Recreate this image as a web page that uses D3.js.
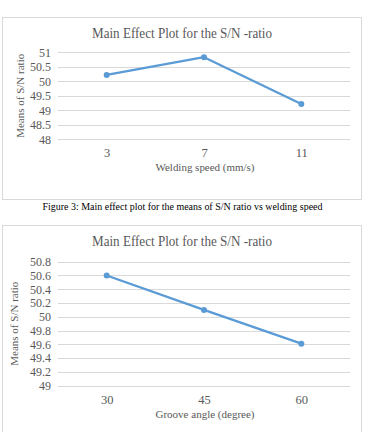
<!DOCTYPE html>
<html>
<head>
<meta charset="utf-8">
<script src="https://cdn.jsdelivr.net/npm/d3@7"></script>
<style>
  body { margin: 0; background: #fff; }
  svg text { font-family: "Liberation Serif", "DejaVu Serif", serif; }
</style>
</head>
<body>
<div id="chart"></div>
<script>
// chart 1 data
const speedCats = ['3', '7', '11'];
const speedMeans = [50.22, 50.83, 49.22];
const speedTicks = [48, 48.5, 49, 49.5, 50, 50.5, 51];

// chart 2 data
const angleCats = ['30', '45', '60'];
const angleMeans = [50.6, 50.1, 49.61];
const angleTicks = [49, 49.2, 49.4, 49.6, 49.8, 50, 50.2, 50.4, 50.6, 50.8];

const chartTitle = 'Main Effect Plot for the S/N -ratio';
const yTitle = 'Means of S/N ratio';
const caption = 'Figure 3: Main effect plot for the means of S/N ratio vs welding speed';

const width = 367, height = 432;
const svg = d3.select('#chart')
  .append('svg')
  .attr('width', width)
  .attr('height', height);

const textColor = '#595959';
const lineColor = '#5b9bd5';

// draws one excel-like chart inside its own box
const drawChart = (top, boxH, cats, values, ticks, xTitle, yTop, yBottom, yTitleX) => {
  const g = svg.append('g').attr('transform', `translate(0,${top})`);

  g.append('rect')
    .attr('x', 2.5)
    .attr('y', 0.5)
    .attr('width', 359)
    .attr('height', boxH)
    .attr('fill', '#fff')
    .attr('stroke', '#d9d9d9');

  g.append('text')
    .attr('x', 182)
    .attr('y', 21)
    .attr('text-anchor', 'middle')
    .attr('font-size', 14.5)
    .attr('textLength', 180)
    .attr('lengthAdjust', 'spacingAndGlyphs')
    .attr('fill', textColor)
    .text(chartTitle);

  const x = d3.scalePoint()
    .domain(cats)
    .range([58, 350])
    .padding(0.5);

  const y = d3.scaleLinear()
    .domain(d3.extent(ticks))
    .range([yBottom, yTop]);

  // gridlines
  g.append('g')
    .selectAll('line')
    .data(ticks)
    .enter()
    .append('line')
    .attr('x1', 58)
    .attr('x2', 350)
    .attr('y1', d => Math.round(y(d)) + 0.5)
    .attr('y2', d => Math.round(y(d)) + 0.5)
    .attr('stroke', '#d9d9d9')
    .attr('stroke-width', 1);

  // y tick labels
  const yAxis = g.append('g')
    .attr('transform', 'translate(56,0)')
    .call(d3.axisLeft(y).tickValues(ticks).tickSize(0).tickPadding(5).tickFormat(d3.format('')));
  yAxis.select('.domain').remove();
  yAxis.selectAll('text')
    .attr('font-size', 12)
    .attr('fill', textColor)
    .style('font-family', '"Liberation Serif", serif');

  // x tick labels
  const xAxis = g.append('g')
    .attr('transform', `translate(0,${yBottom})`)
    .call(d3.axisBottom(x).tickSize(0).tickPadding(9));
  xAxis.select('.domain').remove();
  xAxis.selectAll('text')
    .attr('font-size', 12.5)
    .attr('fill', textColor)
    .style('font-family', '"Liberation Serif", serif');

  // axis titles
  g.append('text')
    .attr('x', 205)
    .attr('y', yBottom + 32)
    .attr('text-anchor', 'middle')
    .attr('font-size', 11)
    .attr('textLength', 99)
    .attr('lengthAdjust', 'spacingAndGlyphs')
    .attr('fill', textColor)
    .text(xTitle);

  g.append('text')
    .attr('transform', `translate(${yTitleX},${(yTop + yBottom) / 2}) rotate(-90)`)
    .attr('text-anchor', 'middle')
    .attr('font-size', 11)
    .attr('textLength', 84)
    .attr('lengthAdjust', 'spacingAndGlyphs')
    .attr('fill', textColor)
    .text(yTitle);

  // the line and markers
  const line = d3.line()
    .x((d, i) => x(cats[i]))
    .y(d => y(d));

  g.append('path')
    .datum(values)
    .attr('d', line)
    .attr('fill', 'none')
    .attr('stroke', lineColor)
    .attr('stroke-width', 2.25)
    .attr('stroke-linejoin', 'round');

  g.selectAll('.marker')
    .data(values)
    .enter()
    .append('circle')
    .attr('class', 'marker')
    .attr('cx', (d, i) => x(cats[i]))
    .attr('cy', d => y(d))
    .attr('r', 3)
    .attr('fill', lineColor);
};

drawChart(17, 182, speedCats, speedMeans, speedTicks, 'Welding speed (mm/s)', 35.3, 122.3, 24);

svg.append('text')
  .attr('x', 182.5)
  .attr('y', 209.5)
  .attr('text-anchor', 'middle')
  .attr('font-size', 10.5)
  .attr('textLength', 280)
  .attr('lengthAdjust', 'spacingAndGlyphs')
  .attr('fill', '#000')
  .text(caption);

drawChart(225, 230, angleCats, angleMeans, angleTicks, 'Groove angle (degree)', 36.7, 160.7, 18);
</script>
</body>
</html>
